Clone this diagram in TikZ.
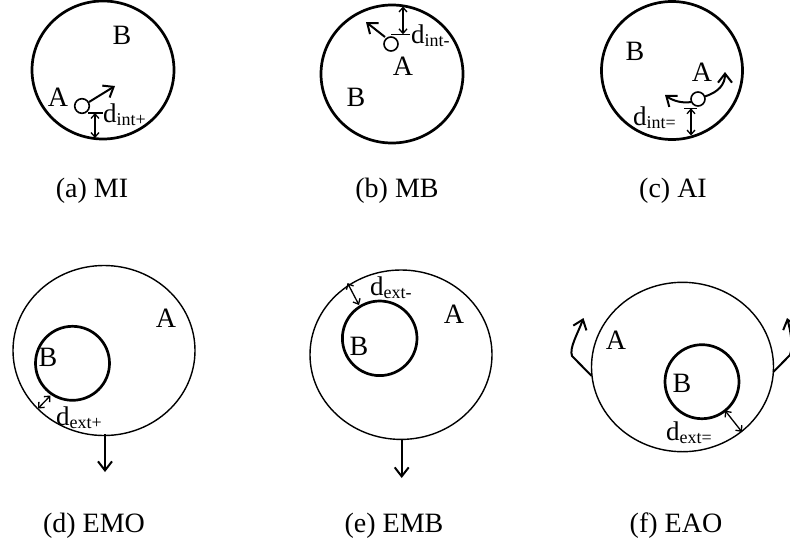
\documentclass[tikz,border=0pt]{standalone}
\usepackage{fontspec}
\setmainfont{Liberation Serif}
\usetikzlibrary{arrows.meta}
\newcommand{\dsub}[2]{d\raisebox{-0.3ex}{\fontsize{18}{18}\selectfont #2}}
\begin{document}
\begin{tikzpicture}[x=1pt,y=-1pt,
  lbl/.style={inner sep=0pt,font=\fontsize{28}{32}\selectfont},
  dlbl/.style={inner sep=0pt,anchor=base west,font=\fontsize{27}{30}\selectfont},
  capt/.style={inner sep=0pt,anchor=base,font=\fontsize{28}{32}\selectfont},
  thickc/.style={line width=2.7pt},
  thinc/.style={line width=1.4pt},
  smallc/.style={line width=1.6pt},
  arr/.style={line width=2pt,-{Straight Barb[length=9pt,width=14pt]}},
  dimarr/.style={line width=1.3pt,{Straight Barb[length=4.5pt,width=8pt]}-{Straight Barb[length=4.5pt,width=8pt]}},
  tick/.style={line width=1.4pt}]
\useasboundingbox (0,0) rectangle (790,555);
\clip (0,0) rectangle (790,555);
% ---------- (a) MI ----------
\draw[thickc] (103,70) ellipse [x radius=71, y radius=69];
\draw[smallc] (82,106) circle [radius=7.3];
\coordinate (a-s) at (89,102);
\coordinate (a-t) at (115,86);
\draw[arr] (a-s) -- (a-t);
\node[lbl] (a-A) at (58,97) {A};
\node[lbl] (a-B) at (122,35) {B};
\coordinate (a-k1) at (88,113);
\coordinate (a-k2) at (103,113);
\draw[tick] (a-k1) -- (a-k2);
\coordinate (a-d1) at (95,113);
\coordinate (a-d2) at (95,138);
\draw[dimarr] (a-d1) -- (a-d2);
\node[dlbl] (a-d) at (103,122) {\dsub{d}{int+}};
\node[capt] (a-cap) at (92,197) {(a) MI};
% ---------- (b) MB ----------
\draw[thickc] (392,74) ellipse [x radius=71, y radius=69];
\draw[smallc] (391,44) circle [radius=7];
\coordinate (b-s) at (385,37);
\coordinate (b-t) at (366,22);
\draw[arr] (b-s) -- (b-t);
\coordinate (b-k1) at (391,34.3);
\coordinate (b-k2) at (410,34.3);
\draw[tick] (b-k1) -- (b-k2);
\coordinate (b-d1) at (403,34.3);
\coordinate (b-d2) at (403,6.5);
\draw[dimarr] (b-d1) -- (b-d2);
\node[dlbl] (b-d) at (411,43) {\dsub{d}{int-}};
\node[lbl] (b-A) at (403,66) {A};
\node[lbl] (b-B) at (356,97) {B};
\node[capt] (b-cap) at (397,197) {(b) MB};
% ---------- (c) AI ----------
\draw[thickc] (672,70.5) ellipse [x radius=70.5, y radius=69];
\node[lbl] (c-B) at (635,51) {B};
\node[lbl] (c-A) at (702,72) {A};
\draw[smallc] (698,99) circle [radius=7];
\coordinate (c-s1) at (705,96.5);
\coordinate (c-t1) at (725,72);
\draw[arr] (c-s1) .. controls (718,92) and (725,85) .. (c-t1);
\coordinate (c-s2) at (691,102);
\coordinate (c-t2) at (665,95);
\draw[arr] (c-s2) .. controls (683,103.5) and (673,101) .. (c-t2);
\coordinate (c-k1) at (684,108.3);
\coordinate (c-k2) at (697,108.3);
\draw[tick] (c-k1) -- (c-k2);
\coordinate (c-d1) at (691,108.3);
\coordinate (c-d2) at (691,135.5);
\draw[dimarr] (c-d1) -- (c-d2);
\node[dlbl] (c-d) at (633,125) {\dsub{d}{int=}};
\node[capt] (c-cap) at (673,197) {(c) AI};
% ---------- (d) EMO ----------
\draw[thinc] (104,350.5) ellipse [x radius=91, y radius=85];
\draw[thickc] (72.5,363.3) circle [radius=37];
\node[lbl] (d-A) at (166,318) {A};
\node[lbl] (d-B) at (48,357) {B};
\coordinate (d-d1) at (38,408.5);
\coordinate (d-d2) at (50.5,395.5);
\draw[dimarr] (d-d1) -- (d-d2);
\node[dlbl] (d-d) at (56,425) {\dsub{d}{ext+}};
\coordinate (d-s) at (105,434);
\coordinate (d-t) at (105,472);
\draw[arr] (d-s) -- (d-t);
\node[capt] (d-cap) at (94,532) {(d) EMO};
% ---------- (e) EMB ----------
\draw[thinc] (401,354.7) ellipse [x radius=91, y radius=84.7];
\draw[thickc] (379.7,338.3) circle [radius=37.3];
\node[lbl] (e-B) at (359,346) {B};
\node[lbl] (e-A) at (454,314) {A};
\coordinate (e-d1) at (347.5,283);
\coordinate (e-d2) at (359,305);
\draw[dimarr] (e-d1) -- (e-d2);
\node[dlbl] (e-d) at (370,295) {\dsub{d}{ext-}};
\coordinate (e-s) at (401.7,439);
\coordinate (e-t) at (401.7,478);
\draw[arr] (e-s) -- (e-t);
\node[capt] (e-cap) at (394,532) {(e) EMB};
% ---------- (f) EAO ----------
\draw[thinc] (682.5,367) ellipse [x radius=91, y radius=84.7];
\draw[thickc] (702,381.7) circle [radius=37];
\node[lbl] (f-B) at (682,383) {B};
\node[lbl] (f-A) at (616,340) {A};
\coordinate (f-d1) at (725,410.5);
\coordinate (f-d2) at (742,432);
\draw[dimarr] (f-d1) -- (f-d2);
\node[dlbl] (f-d) at (666,440) {\dsub{d}{ext=}};
\coordinate (f-l0) at (591.7,376);
\coordinate (f-l1) at (572,356);
\coordinate (f-lt) at (583.5,318);
\draw[arr,line join=round] (f-l0) -- (f-l1) .. controls (569,348) and (578,333) .. (f-lt);
\coordinate (f-r0) at (773.3,372);
\coordinate (f-r1) at (790,355);
\coordinate (f-rt) at (787,318);
\draw[arr,line join=round] (f-r0) -- (f-r1) .. controls (793,347) and (791,332) .. (f-rt);
\node[capt] (f-cap) at (676,532) {(f) EAO};
\end{tikzpicture}
\end{document}
